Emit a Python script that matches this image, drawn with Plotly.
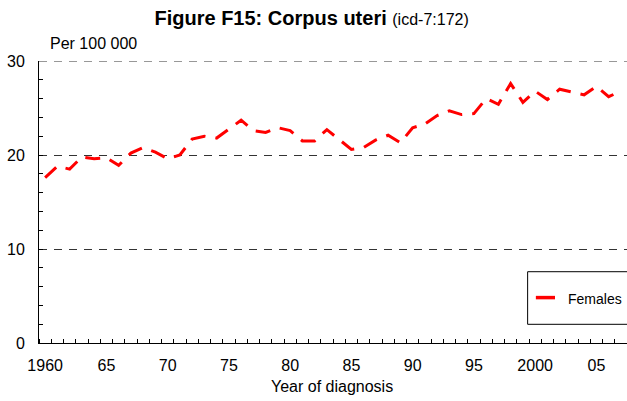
import plotly.graph_objects as go

# Corpus uteri incidence, females, per 100 000
years = list(range(1960, 2008))
females = [
    17.6, 18.8, 18.5, 19.8, 19.6, 19.7, 18.9, 20.2, 20.8, 20.3,
    19.6, 20.0, 21.7, 22.0, 21.8, 22.8, 23.7, 22.6, 22.4, 22.9,
    22.6, 21.5, 21.5, 22.7, 21.7, 20.6, 20.8, 21.6, 22.1, 21.3,
    22.9, 23.3, 24.2, 24.7, 24.3, 24.4, 26.0, 25.4, 27.6, 25.6,
    26.8, 25.9, 27.0, 26.7, 26.4, 27.3, 26.2, 26.8,
]

x_tickvals = [1960, 1965, 1970, 1975, 1980, 1985, 1990, 1995, 2000, 2005]
x_ticktext = ["1960", "65", "70", "75", "80", "85", "90", "95", "2000", "05"]
y_tickvals = [0, 10, 20, 30]
y_max = 30

FONT = "Liberation Sans, Arial, sans-serif"
GRID_DASH = "8px,7px"
GRID_COLOR = "#333333"

fig = go.Figure()

fig.add_trace(go.Scatter(
    x=years,
    y=females,
    mode="lines",
    line=dict(color="#ff0000", width=3, dash="15px,10px"),
    name="Females",
    showlegend=False,
    hoverinfo="x+y",
))

fig.update_layout(
    width=627,
    height=401,
    margin=dict(l=39, r=0, t=61, b=58),
    plot_bgcolor="white",
    paper_bgcolor="white",
    font=dict(family=FONT, size=16, color="black"),
    title=dict(
        text="<b>Figure F15: Corpus uteri</b> "
             "<span style='font-size:16px'>(icd-7:172)</span>",
        font=dict(family=FONT, size=20, color="black"),
        x=0.497, xref="container", xanchor="center",
        y=1 - 18 / 401, yref="container", yanchor="middle",
    ),
    xaxis=dict(
        range=[1959.5, 2007.5],
        tickvals=x_tickvals,
        ticktext=x_ticktext,
        ticks="",
        ticklabelstandoff=8,
        tickfont=dict(size=16),
        showgrid=False,
        zeroline=False,
        showline=True,
        linecolor="black",
        linewidth=1,
        minor=dict(ticks="inside", tick0=1959.5, dtick=1, ticklen=4,
                   tickcolor="black", showgrid=False),
        fixedrange=True,
    ),
    yaxis=dict(
        range=[0, y_max],
        tickvals=y_tickvals,
        ticks="inside",
        ticklen=4,
        tickcolor="black",
        ticklabelstandoff=10,
        tickfont=dict(size=16),
        showgrid=True,
        gridcolor=GRID_COLOR,
        gridwidth=1,
        griddash=GRID_DASH,
        zeroline=False,
        showline=True,
        linecolor="black",
        linewidth=1,
        minor=dict(ticks="inside", tick0=0, dtick=2, ticklen=4,
                   tickcolor="black", showgrid=False),
        fixedrange=True,
    ),
)

# plotly skips the grid line on the top edge, so draw that one by hand
fig.add_shape(type="line", xref="paper", yref="y",
              x0=0, x1=1, y0=y_max, y1=y_max,
              line=dict(color=GRID_COLOR, width=1, dash=GRID_DASH), layer="below")

# Unit label above the y axis
fig.add_annotation(
    text="Per 100 000", x=0.015, y=(343 - 44) / 282,
    xref="paper", yref="paper", xanchor="left", yanchor="middle",
    showarrow=False, font=dict(size=16),
)

# x axis title
fig.add_annotation(
    text="Year of diagnosis", x=0.498, y=(343 - 386) / 282,
    xref="paper", yref="paper", xanchor="center", yanchor="middle",
    showarrow=False, font=dict(size=16),
)

# Legend box (runs off the right edge like the original)
fig.add_shape(type="rect", xref="paper", yref="paper",
              x0=0.831, x1=1.05, y0=0.0663, y1=0.2528,
              line=dict(color="black", width=1), fillcolor="white", layer="above")
fig.add_shape(type="line", xref="paper", yref="paper",
              x0=0.845, x1=0.8776, y0=0.161, y1=0.161,
              line=dict(color="#ff0000", width=3.5), layer="above")
fig.add_annotation(
    text="Females", x=0.8957, y=0.157,
    xref="paper", yref="paper", xanchor="left", yanchor="middle",
    showarrow=False, font=dict(size=14),
)

# drop the default 8px body margin so the figure fills the window exactly
fig.write_html("out.html", config={"displayModeBar": False},
               post_script="document.body.style.margin='0';")
